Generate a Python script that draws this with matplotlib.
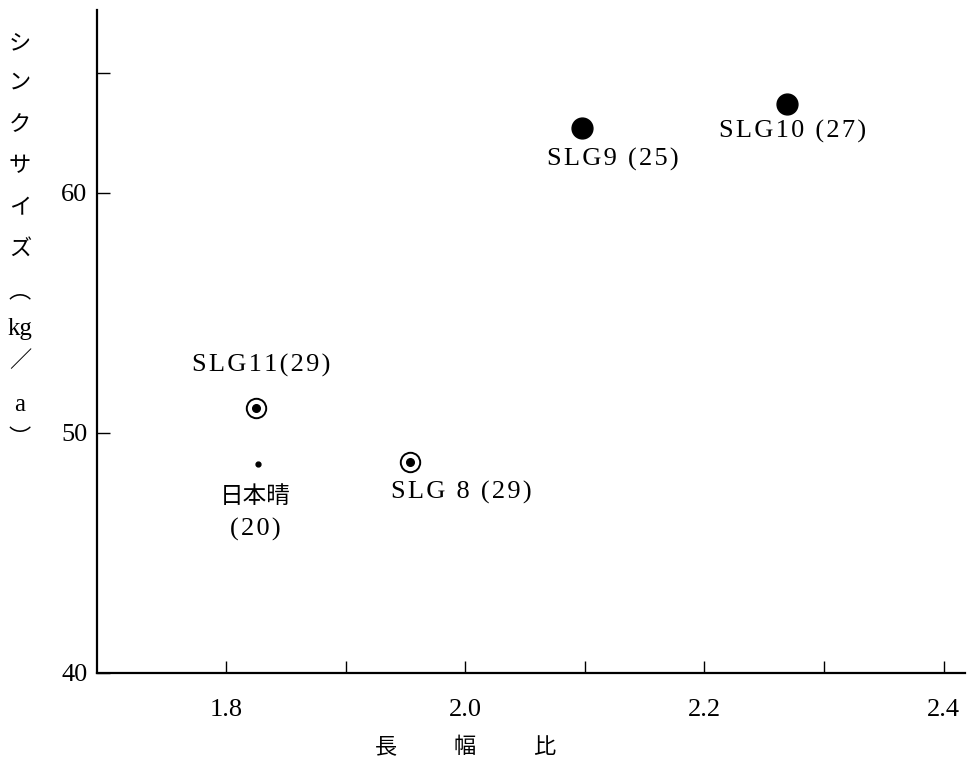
import matplotlib
matplotlib.use("Agg")
import matplotlib.pyplot as plt

# data
names = ["SLG9 (25)", "SLG10 (27)", "SLG11(29)", "日本晴", "SLG 8 (29)"]
counts_under = [None, None, None, "(20)", None]
ratio = [2.098, 2.269, 1.825, 1.827, 1.954]
sink = [62.7, 63.7, 51.05, 48.7, 48.8]
kind = ["filled", "filled", "circled", "dot", "circled"]

x_ticks = [1.8, 1.9, 2.0, 2.1, 2.2, 2.3, 2.4]
x_labels = ["1.8", "", "2.0", "", "2.2", "", "2.4"]
y_ticks = [40, 50, 60, 65]
y_labels = ["40", "50", "60", ""]
ylabel_chars = ["シ", "ン", "ク", "サ", "イ", "ズ", "︵", "kg", "／", "a", "︶"]
xlabel_chars = ["長", "幅", "比"]

FAM = ["Liberation Serif", "Noto Sans CJK JP", "DejaVu Sans"]
plt.rcParams["font.family"] = FAM


def spaced(s):
    # the print uses fixed-pitch letters, so open the latin text up a little
    return "\u200a".join(s)


fig = plt.figure(figsize=(9.7, 7.62), dpi=100)
ax = fig.add_axes([0.1, 0.1168, 0.895, 0.87])

for x, y, k in zip(ratio, sink, kind):
    if k == "filled":
        ax.plot(x, y, "o", color="black", markersize=15)
    elif k == "circled":
        ax.plot(x, y, "o", mfc="white", mec="black", mew=1.4, markersize=14)
        ax.plot(x, y, "o", color="black", markersize=5.5)
    else:
        ax.plot(x, y, "o", color="black", markersize=3.5)

# label offsets in points (dx, dy)
offsets = {
    "SLG9 (25)": (22, -23),
    "SLG10 (27)": (4, -20),
    "SLG11(29)": (4, 30),
    "日本晴": (-2, -24),
    "SLG 8 (29)": (37, -22),
}
for n, sub, x, y in zip(names, counts_under, ratio, sink):
    dx, dy = offsets[n]
    if sub is None:
        ax.annotate(spaced(n), (x, y), xytext=(dx, dy), textcoords="offset points",
                    ha="center", va="center", fontsize=19)
    else:
        ax.annotate(n, (x, y), xytext=(dx, dy), textcoords="offset points",
                    ha="center", va="center", fontsize=17)
        ax.annotate(spaced(sub), (x, y), xytext=(dx, dy - 23), textcoords="offset points",
                    ha="center", va="center", fontsize=19)

ax.set_xlim(1.692, 2.418)
ax.set_ylim(40, 67.6)
ax.set_xticks(x_ticks)
ax.set_xticklabels(x_labels)
ax.set_yticks(y_ticks)
ax.set_yticklabels(y_labels)
ax.tick_params(direction="in", length=9, width=1.0, labelsize=19)
ax.tick_params(axis="x", pad=19)
ax.tick_params(axis="y", pad=7)
ax.spines["top"].set_visible(False)
ax.spines["right"].set_visible(False)
ax.spines["left"].set_linewidth(1.6)
ax.spines["bottom"].set_linewidth(1.6)

ylab_y = [45, 84, 127, 168, 210, 250, 293, 329, 362, 405, 440]
for c, yy in zip(ylabel_chars, ylab_y):
    size = 18 if c.isascii() else 16
    fig.text(20 / 970, 1 - yy / 762, c, ha="center", va="center", fontsize=size)

for i, c in enumerate(xlabel_chars):
    fig.text((386 + i * 79) / 970, 1 - 748 / 762, c, ha="center", va="center", fontsize=16)

fig.savefig("out.png", dpi=100)
